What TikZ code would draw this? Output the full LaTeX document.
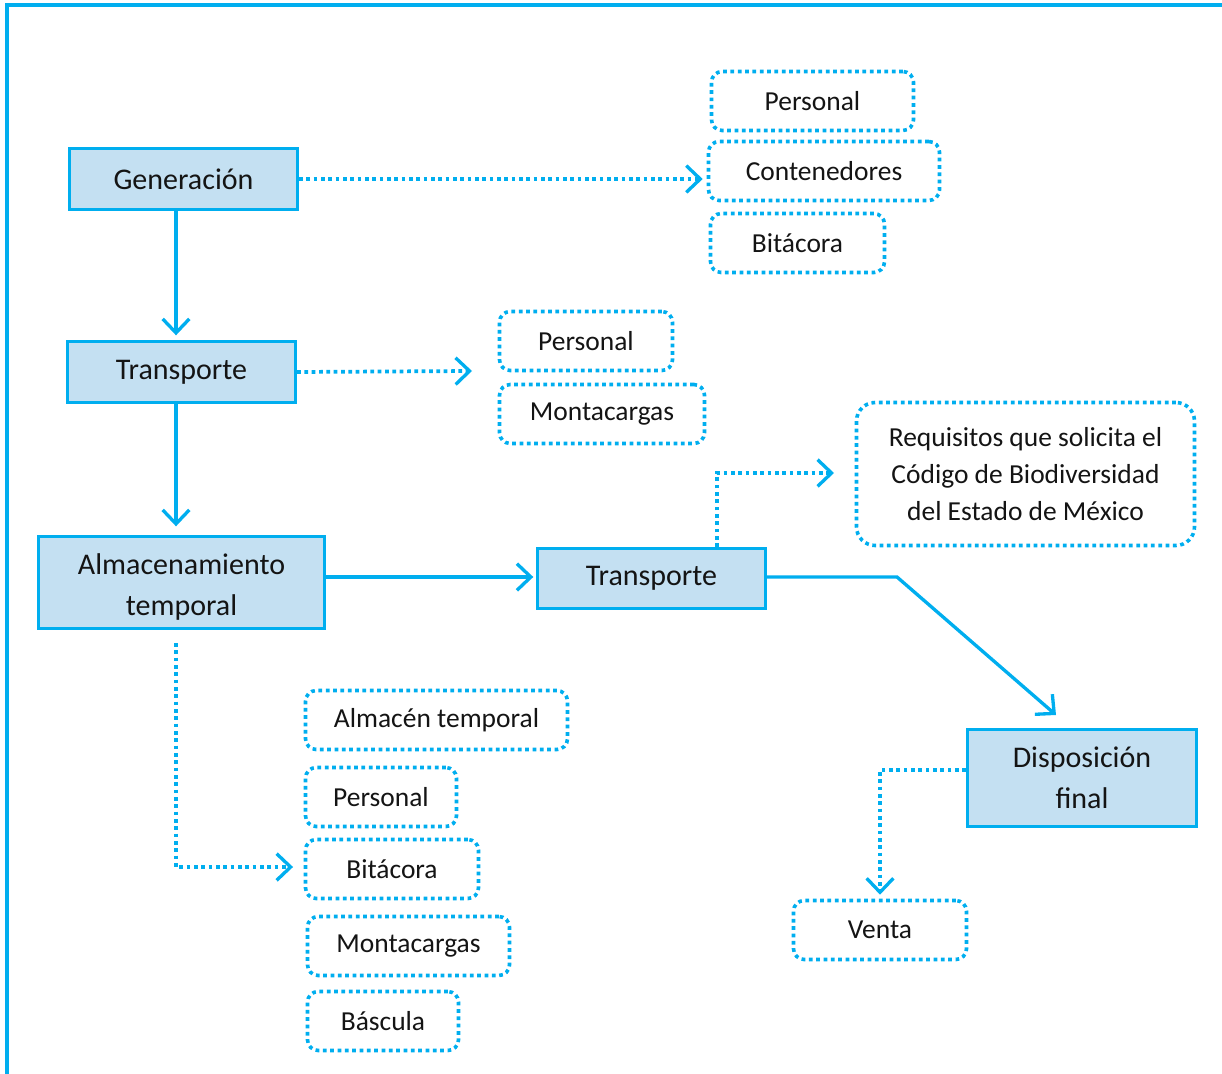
\documentclass[tikz,border=0pt]{standalone}
\usepackage{fontspec}
\setmainfont{Carlito}
\usetikzlibrary{arrows.meta}
\definecolor{cyanline}{HTML}{00AEEF}
\definecolor{stagefill}{HTML}{C4E0F2}
\definecolor{ink}{HTML}{141414}
\begin{document}
\begin{tikzpicture}[x=0.75pt,y=-0.75pt,
  px/.style 2 args={minimum width=#1*0.75pt, minimum height=#2*0.75pt},
  stage/.style={draw=cyanline, fill=stagefill, line width=2.3pt, inner sep=0pt,
    text=ink, align=center, font=\fontsize{22.5}{30.75}\selectfont},
  item/.style={draw=cyanline, line width=2.7pt, dash pattern=on 2.8pt off 2.7pt,
    rounded corners=8pt, inner sep=0pt, text=ink, align=center,
    font=\fontsize{20.6}{27.75}\selectfont},
  flow/.style={draw=cyanline, line width=2.5pt,
    -{Straight Barb[length=10.5pt,width=20pt,line width=2.5pt]}},
  link/.style={flow, line width=2.8pt, dash pattern=on 2.8pt off 2.7pt},
  frame/.style={draw=cyanline, line width=2.5pt}]
\useasboundingbox (0,0) rectangle (1222,1074);
\clip (0,0) rectangle (1222,1074);
% outer frame
\draw[frame] (7,1080) -- (7,5) -- (1230,5);

% process stages
\node[stage, px={228}{61}] (gen) at (183.5,179) {Generación};
\node[stage, px={228}{61}] (tr1) at (181.5,372) {Transporte};
\node[stage, px={286}{92}] (alm) at (181.5,582.5) {\rule{0pt}{22pt}Almacenamiento\\temporal};
\node[stage, px={228}{60}] (tr2) at (651.5,578.5) {Transporte};
\node[stage, px={229}{97}] (disp) at (1082,778) {Disposición\\final};

% requirements of each stage
\node[item, px={202}{59}] (p1) at (812.5,101) {Personal};
\node[item, px={231}{59}] (cont) at (824,171) {Contenedores};
\node[item, px={174}{59}] (bit1) at (797.5,243) {Bitácora};
\node[item, px={173}{59}] (p2) at (586,341) {Personal};
\node[item, px={205}{59}] (mont1) at (602,414) {Montacargas};
\node[item, px={338}{143}, rounded corners=14pt] (req) at (1025.5,474)
  {Requisitos que solicita el\\Código de Biodiversidad\\del Estado de México};
\node[item, px={262}{59}] (almt) at (436.5,720) {Almacén temporal};
\node[item, px={151}{59}] (p3) at (381,797) {Personal};
\node[item, px={173}{59}] (bit3) at (392,869) {Bitácora};
\node[item, px={202}{59}] (mont3) at (408.5,946) {Montacargas};
\node[item, px={151}{59}] (bas) at (383,1021) {Báscula};
\node[item, px={173}{59}] (venta) at (880,930) {Venta};

% turning points
\coordinate (t1end) at (472,371);
\coordinate (tr2up) at (717,473);
\coordinate (reqin) at (834,473);
\coordinate (bend) at (897,577);
\coordinate (dispin) at (1056,715);
\coordinate (almturn) at (176,867);
\coordinate (dturn) at (880,770);

% main flow
\draw[flow, shorten >=3.5pt] (gen.south -| 176,0) -- (tr1.north -| 176,0);
\draw[flow, shorten >=6.5pt] (tr1.south -| 176,0) -- (alm.north -| 176,0);
\draw[flow, shorten >=2pt] (alm.east |- tr2.west) ++(0,-1.5) -- (tr2.west |- 0,577);
\draw[flow] (tr2.east |- 0,577) -- (bend) -- (dispin);

% requirement links
\draw[link, shorten >=3pt] (gen.east) -- (gen.east -| cont.west);
\draw[link] (tr1.east) -- (t1end);
\draw[link] (tr2.north -| tr2up) -- (tr2up) -- (reqin);
\draw[link, shorten >=8pt] ([yshift=-9.75pt]alm.south -| almturn) -- (almturn) -- (bit3.west |- almturn);
\draw[link, shorten >=3pt] (dturn -| disp.west) -- (dturn) -- (dturn |- venta.north);
\end{tikzpicture}
\end{document}
